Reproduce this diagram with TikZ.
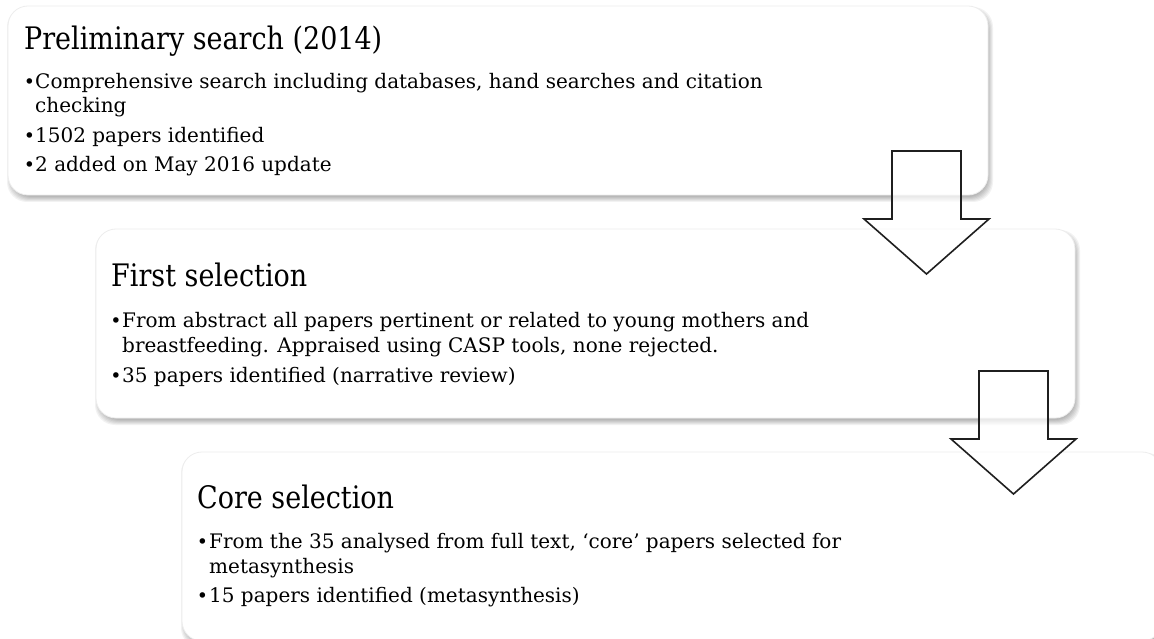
\documentclass[tikz,border=0pt]{standalone}
\usepackage{fontspec}
\setmainfont{DejaVu Serif}
\newfontfamily\headfont{DejaVu Serif}[FakeStretch=0.87]
\newcommand\softshadow[4]{%
  \foreach \k in {0,...,5}{%
    \fill[black, opacity=0.05, rounded corners=20pt]
      (#1-1+\k, #2+1+\k) rectangle (#3+5-\k, #4+7-\k);}}
\begin{document}
\begin{tikzpicture}[x=1pt,y=-1pt,
  card/.style={draw=black!7, fill=white, rounded corners=20pt, line width=0.8pt},
  flowarrow/.style={draw=black!88, line width=1.6pt, fill=white, fill opacity=0.7, line join=miter},
  ttl/.style={anchor=base west, inner sep=0pt, text=black, font=\headfont\fontsize{31}{36}\selectfont},
  txt/.style={anchor=base west, inner sep=0pt, text=black, font=\fontsize{20}{25}\selectfont},
  dot/.style={anchor=base, inner sep=0pt, text=black, font=\fontsize{19}{25}\selectfont}]
\useasboundingbox (0,0) rectangle (1154,639);
\fill[white] (0,0) rectangle (1154,639);

% cards with their shadows
\softshadow{8}{6}{988}{195}
\draw[card] (8,6) rectangle (988,195);
\softshadow{96}{229}{1075}{418}
\draw[card] (96,229) rectangle (1075,418);
\softshadow{182}{452}{1162}{641}
\draw[card] (182,452) rectangle (1162,641);

% stage 1
\node[ttl] (t1) at (24,50) {Preliminary search (2014)};
\node[dot] (d11) at (29.5,89) {•};
\node[txt] (l11) at (35,89) {Comprehensive search including databases, hand searches and citation};
\node[txt] (l12) at (35,113) {checking};
\node[dot] (d12) at (29.5,143) {•};
\node[txt] (l13) at (35,143) {1502 papers identified};
\node[dot] (d13) at (29.5,172) {•};
\node[txt] (l14) at (35,172) {2 added on May 2016 update};

% stage 2
\node[ttl] (t2) at (111,287) {First selection};
\node[dot] (d21) at (116,327) {•};
\node[txt] (l21) at (122,327) {From abstract all papers pertinent or related to young mothers and};
\node[txt] (l22) at (122,352) {breastfeeding. Appraised using CASP tools, none rejected.};
\node[dot] (d22) at (116,382) {•};
\node[txt] (l23) at (122,382) {35 papers identified (narrative review)};

% stage 3
\node[ttl] (t3) at (197,508) {Core selection};
\node[dot] (d31) at (202.5,548) {•};
\node[txt] (l31) at (209,548) {From the 35 analysed from full text, ‘core’ papers selected for};
\node[txt] (l32) at (209,573) {metasynthesis};
\node[dot] (d32) at (202.5,602) {•};
\node[txt] (l33) at (209,602) {15 papers identified (metasynthesis)};

% block arrows between the stages
\coordinate (a1) at (926.5,274);
\coordinate (a2) at (1013.5,494);
\draw[flowarrow] ([shift={(-34.5,-123)}]a1) -- ([shift={(34.5,-123)}]a1)
  -- ([shift={(34.5,-55)}]a1) -- ([shift={(62.5,-55)}]a1) -- (a1)
  -- ([shift={(-62.5,-55)}]a1) -- ([shift={(-34.5,-55)}]a1) -- cycle;
\draw[flowarrow] ([shift={(-34.5,-123)}]a2) -- ([shift={(34.5,-123)}]a2)
  -- ([shift={(34.5,-55)}]a2) -- ([shift={(62.5,-55)}]a2) -- (a2)
  -- ([shift={(-62.5,-55)}]a2) -- ([shift={(-34.5,-55)}]a2) -- cycle;
\end{tikzpicture}
\end{document}
